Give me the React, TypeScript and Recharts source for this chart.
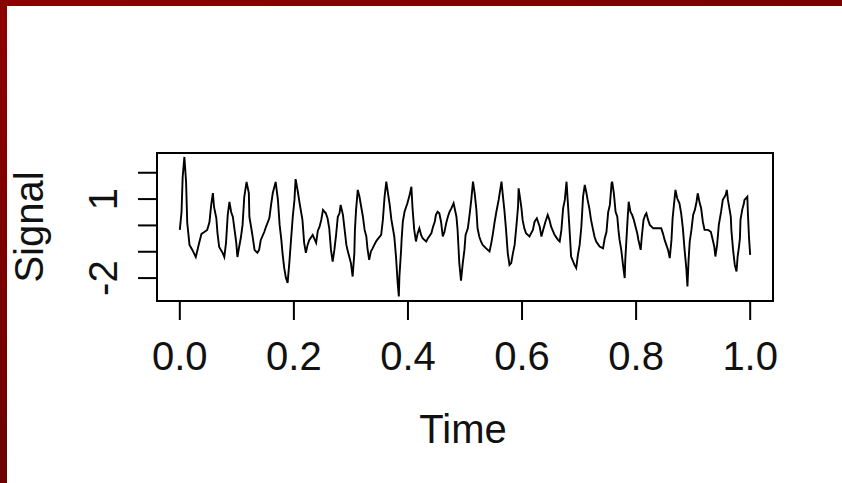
import { LineChart, Line, XAxis, YAxis, ReferenceArea, Label } from 'recharts';

// values (time, signal)
const time = [
  0, 0.003, 0.005, 0.008, 0.011, 0.013, 0.017, 0.022, 0.028, 0.034,
  0.038, 0.043, 0.048, 0.052, 0.055, 0.058, 0.060, 0.064, 0.066, 0.069,
  0.075, 0.078, 0.081, 0.084, 0.087, 0.090, 0.093, 0.096, 0.099, 0.101,
  0.104, 0.107, 0.110, 0.113, 0.117, 0.121, 0.122, 0.125, 0.128, 0.131,
  0.136, 0.139, 0.142, 0.148, 0.151, 0.157, 0.160, 0.163, 0.168, 0.172,
  0.175, 0.178, 0.180, 0.183, 0.186, 0.189, 0.192, 0.195, 0.198, 0.201,
  0.203, 0.207, 0.210, 0.215, 0.218, 0.221, 0.224, 0.227, 0.233, 0.239,
  0.242, 0.245, 0.248, 0.251, 0.256, 0.259, 0.262, 0.265, 0.268, 0.271,
  0.274, 0.277, 0.280, 0.282, 0.286, 0.289, 0.292, 0.294, 0.297, 0.300,
  0.303, 0.306, 0.307, 0.309, 0.312, 0.315, 0.318, 0.321, 0.324, 0.327,
  0.329, 0.332, 0.335, 0.338, 0.341, 0.344, 0.347, 0.353, 0.356, 0.359,
  0.362, 0.365, 0.368, 0.371, 0.376, 0.379, 0.382, 0.384, 0.385, 0.388,
  0.389, 0.391, 0.394, 0.399, 0.403, 0.406, 0.408, 0.411, 0.414, 0.417,
  0.420, 0.423, 0.426, 0.432, 0.435, 0.441, 0.444, 0.447, 0.449, 0.452,
  0.455, 0.458, 0.461, 0.464, 0.467, 0.470, 0.473, 0.476, 0.480, 0.485,
  0.487, 0.490, 0.493, 0.496, 0.499, 0.501, 0.505, 0.508, 0.511, 0.514,
  0.517, 0.520, 0.522, 0.525, 0.528, 0.531, 0.537, 0.543, 0.546, 0.549,
  0.552, 0.555, 0.559, 0.564, 0.566, 0.569, 0.572, 0.575, 0.578, 0.581,
  0.584, 0.587, 0.590, 0.593, 0.594, 0.597, 0.599, 0.601, 0.604, 0.607,
  0.613, 0.619, 0.622, 0.626, 0.631, 0.634, 0.637, 0.641, 0.645, 0.648,
  0.651, 0.657, 0.663, 0.666, 0.669, 0.672, 0.675, 0.678, 0.680, 0.683,
  0.686, 0.692, 0.695, 0.698, 0.701, 0.704, 0.707, 0.710, 0.713, 0.715,
  0.718, 0.721, 0.724, 0.727, 0.730, 0.736, 0.742, 0.745, 0.748, 0.751,
  0.754, 0.757, 0.758, 0.761, 0.764, 0.767, 0.769, 0.771, 0.774, 0.777,
  0.780, 0.781, 0.783, 0.785, 0.787, 0.790, 0.793, 0.796, 0.799, 0.802,
  0.804, 0.808, 0.810, 0.813, 0.816, 0.818, 0.821, 0.824, 0.830, 0.835,
  0.844, 0.847, 0.850, 0.853, 0.856, 0.859, 0.862, 0.864, 0.866, 0.869,
  0.872, 0.876, 0.879, 0.882, 0.885, 0.888, 0.890, 0.892, 0.894, 0.897,
  0.900, 0.903, 0.906, 0.908, 0.911, 0.914, 0.917, 0.920, 0.926, 0.931,
  0.933, 0.937, 0.939, 0.942, 0.945, 0.949, 0.952, 0.957, 0.959, 0.961,
  0.964, 0.966, 0.967, 0.970, 0.973, 0.976, 0.978, 0.980, 0.982, 0.983,
  0.986, 0.989, 0.990, 0.995, 0.996, 0.998, 1.0,
];

const signal = [
  -0.17, 0.51, 1.84, 2.6, 1.65, 0.1, -0.74, -0.93, -1.2, -0.66,
  -0.32, -0.25, -0.17, 0.13, 0.78, 1.23, 0.7, 0.28, -0.28, -0.82,
  -1.04, -1.2, -0.66, 0.4, 0.89, 0.51, 0.32, -0.17, -0.66, -1.2,
  -0.82, -0.47, 0.02, 1.08, 1.65, 1.23, 0.32, -0.06, -0.47, -0.93,
  -1.04, -0.93, -0.55, -0.25, -0.06, 0.28, 0.78, 1.23, 1.65, 0.97,
  0.02, -0.55, -1.04, -1.61, -1.99, -2.18, -1.42, -0.55, 0.32, 0.97,
  1.76, 1.27, 0.85, 0.21, -0.66, -1.04, -0.74, -0.55, -0.36, -0.66,
  -0.2, -0.05, 0.21, 0.59, 0.46, 0.27, -0.11, -0.93, -1.37, -0.93,
  -0.36, 0.33, 0.46, 0.78, 0.4, -0.17, -0.74, -0.93, -1.18, -1.43,
  -1.94, -1.06, -0.17, 0.59, 1.35, 1.09, 0.71, 0.33, -0.17, -0.42,
  -0.87, -1.31, -0.99, -0.87, -0.74, -0.61, -0.52, -0.36, 0.21, 1.09,
  1.66, 1.22, 0.78, 0.21, -0.42, -1.18, -2.19, -2.7, -1.94, -0.93,
  -0.49, 0.14, 0.52, 0.84, 1.16, 1.47, 0.65, -0.17, -0.61, -0.3,
  -0.11, -0.36, -0.49, -0.61, -0.49, -0.3, -0.05, 0.14, 0.4, 0.52,
  0.46, 0.14, -0.42, -0.24, 0.08, 0.33, 0.52, 0.65, 0.84, 0.33,
  -0.17, -1.43, -2.1, -1.45, -0.93, -0.36, -0.11, 0.4, 0.97, 1.66,
  1.22, 0.59, -0.11, -0.42, -0.61, -0.74, -0.87, -0.99, -0.68, -0.3,
  0.14, 0.52, 0.97, 1.66, 1.22, 0.59, -0.17, -1.06, -1.5, -1.43,
  -1.06, -0.74, -0.05, 0.71, 1.41, 0.97, 0.65, 0.21, -0.11, -0.3,
  -0.42, -0.17, 0.14, 0.27, -0.05, -0.42, -0.17, 0.14, 0.4, 0.21,
  -0.05, -0.36, -0.55, -0.61, -0.17, 0.65, 0.97, 1.66, 0.97, -0.05,
  -1.18, -1.5, -1.62, -1.12, -0.74, -0.05, 1.09, 1.54, 1.22, 0.97,
  0.65, 0.21, -0.11, -0.42, -0.61, -0.8, -0.87, -0.49, -0.25, 0.5,
  0.78, 1.6, 1.66, 1.22, 0.52, 0.33, -0.17, -0.55, -0.93, -1.5,
  -2.0, -1.31, -0.55, 0.21, 0.9, 0.52, 0.4, 0.21, -0.05, -0.3,
  -0.55, -0.93, -0.42, 0.21, 0.4, 0.46, 0.21, 0.02, -0.11, -0.11,
  -0.11, -0.3, -0.55, -0.74, -0.93, -1.24, -0.55, 0.27, 0.71, 1.35,
  1.03, 0.84, 0.46, -0.11, -0.93, -1.62, -2.32, -1.31, -0.61, -0.17,
  0.4, 0.59, 0.9, 1.22, 0.9, 0.65, 0.14, -0.17, -0.17, -0.24,
  -0.42, -0.8, -1.18, -0.74, 0.02, 0.52, 0.97, 1.16, 1.35, 0.97,
  0.59, 0.33, -0.17, -0.93, -1.5, -1.75, -1.18, -0.87, -0.49, 0.21,
  0.59, 0.84, 0.97, 1.09, 0.46, -0.49, -1.12,
];

const xTicks = [0, 0.2, 0.4, 0.6, 0.8, 1.0];
const yTicks = [-2, -1, 0, 1, 2];
const yLabelled = [1, -2];

const data = time.map((t, i) => ({ t, v: signal[i] }));

const FONT = '"Liberation Sans", Arial, Helvetica, sans-serif';
const X_DOMAIN: [number, number] = [-0.04, 1.04];
const Y_DOMAIN: [number, number] = [-2.87, 2.75];

const YTick = ({ y, payload }: any) => {
  if (!yLabelled.includes(payload.value)) return <g />;
  return (
    <text x={117} y={y} transform={`rotate(-90, 117, ${y})`} textAnchor="middle"
      fontSize={40} fontFamily={FONT} fill="#111">
      {String(payload.value)}
    </text>
  );
};

export default function App() {
  return (
    <div style={{ position: 'absolute', left: 0, top: 0, width: 842, height: 483, background: '#fff', overflow: 'hidden' }}>
      {/* window frame */}
      <div style={{ position: 'absolute', left: 0, top: 0, width: 842, height: 6, background: 'linear-gradient(to right, #8e0000, #7a0000)' }} />
      <div style={{ position: 'absolute', left: 0, top: 0, width: 7, height: 483, background: 'linear-gradient(to bottom, #8e0000, #6c0000)' }} />

      <LineChart width={842} height={483} data={data}
        margin={{ top: 153, right: 69, bottom: 122, left: 97 }}>
        <XAxis
          dataKey="t"
          type="number"
          domain={X_DOMAIN}
          ticks={xTicks}
          interval={0}
          height={60}
          axisLine={false}
          tickLine={{ stroke: '#000', strokeWidth: 2 }}
          tickSize={19}
          tickMargin={22}
          tickFormatter={(v: number) => v.toFixed(1)}
          tick={{ fontSize: 40, fill: '#111', fontFamily: FONT }}
        >
          <Label content={() => (
            <text x={463} y={443} textAnchor="middle" fontSize={40} fontFamily={FONT} fill="#111">Time</text>
          )} />
        </XAxis>
        <YAxis
          type="number"
          domain={Y_DOMAIN}
          ticks={yTicks}
          interval={0}
          width={60}
          axisLine={false}
          tickLine={{ stroke: '#000', strokeWidth: 2 }}
          tickSize={19}
          tick={<YTick />}
        >
          <Label content={() => (
            <text x={43} y={227} transform="rotate(-90, 43, 227)" textAnchor="middle"
              fontSize={40} fontFamily={FONT} fill="#111">Signal</text>
          )} />
        </YAxis>
        <ReferenceArea x1={X_DOMAIN[0]} x2={X_DOMAIN[1]} y1={Y_DOMAIN[0]} y2={Y_DOMAIN[1]}
          fill="none" fillOpacity={0} stroke="#000" strokeWidth={2} ifOverflow="visible" />
        <Line type="linear" dataKey="v" stroke="#000" strokeWidth={1.9} dot={false} isAnimationActive={false} />
      </LineChart>
    </div>
  );
}
